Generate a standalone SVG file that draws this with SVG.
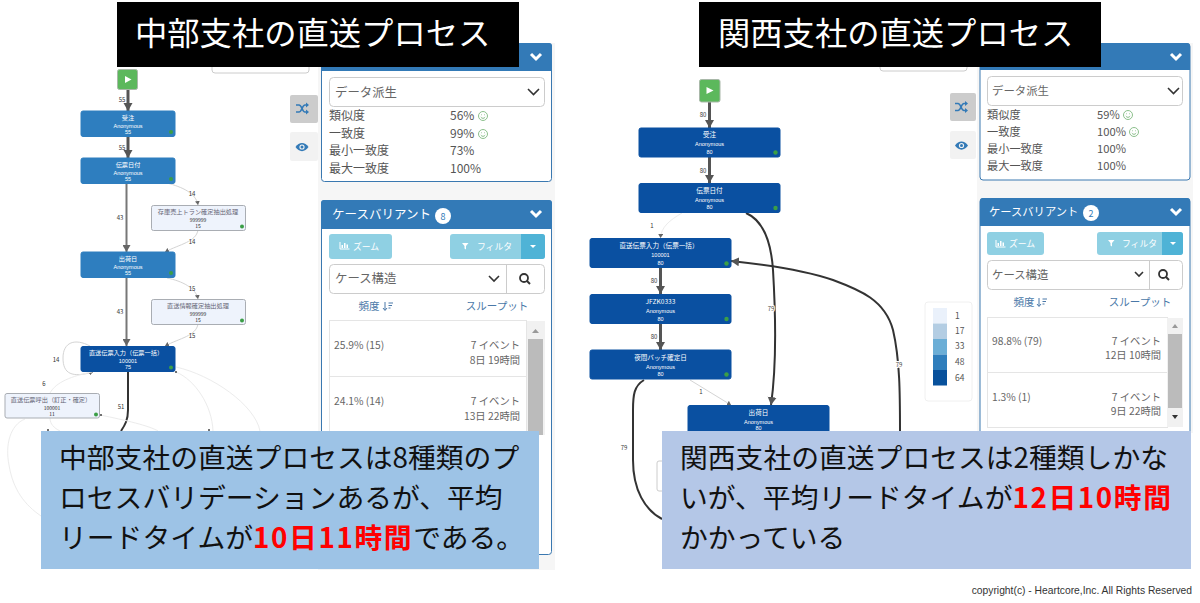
<svg xmlns="http://www.w3.org/2000/svg" width="1200" height="603" viewBox="0 0 1200 603">
<style>
text{font-family:"Noto Sans CJK JP","Liberation Sans",sans-serif}
.side{fill:#f6f6f6}
.panel{fill:#fff;stroke:#3a78b0;stroke-width:1}
.head{fill:#337ab7}
.chev{fill:none;stroke:#fff;stroke-width:3}
.chevd{fill:none;stroke:#333;stroke-width:1.6}
.box{fill:#fff;stroke:#ccc;stroke-width:1}
.t{font-size:12px;fill:#555}
.tr{font-size:11.2px;fill:#555}
.s{font-size:10.300px;fill:#666}
.sel{font-size:12.400px;fill:#666}
.selr{font-size:11.400px;fill:#666}
.lnk{font-size:10.500px;fill:#4a78a8;text-anchor:middle}
.h{font-size:12.500px;fill:#fff}
.hr{font-size:11.300px;fill:#fff}
.bt{font-size:8.800px;fill:#fff}
.btn{fill:#8fd0e3}
.btnd{fill:#4fb3d6}
.smile{fill:none;stroke:#8cc08c;stroke-width:1}
.tool{fill:#f2f2f2}
.toola{fill:#ccc}
.ico{fill:none;stroke:#337ab7;stroke-width:1.600}
.dark{fill:#0a50a1;stroke:#0a50a1}
.mid{fill:#2e7ebf;stroke:#2e7ebf}
.pale{fill:#eef3fc;stroke:#a9adb3;stroke-width:1}
.n1{font-size:6.200px;fill:#fff;text-anchor:middle}
.n1r{font-size:6.600px;fill:#fff;text-anchor:middle}
.n2{font-size:5.500px;fill:#fff;text-anchor:middle;font-family:"Liberation Sans",sans-serif}
.p1{font-size:6.200px;fill:#667;text-anchor:middle}
.p2{font-size:5px;fill:#222;text-anchor:middle}
.dot{fill:#3b9e46}
.play{fill:#5cb85c;stroke:#a9b8a9}
.tri{fill:#fff}
.e1{fill:none;stroke:#555;stroke-width:3}
.e2{fill:none;stroke:#777;stroke-width:2}
.e3{fill:none;stroke:#333;stroke-width:2}
.e4{fill:none;stroke:#d4d4d4;stroke-width:1}
.e5{fill:none;stroke:#ececec;stroke-width:1}
.lb{font-size:6px;fill:#333;text-anchor:middle}
.lbh{font-size:6px;fill:#444;text-anchor:middle;paint-order:stroke;stroke:#fff;stroke-width:2px}
.title{font-size:32.300px;fill:#fff}
.cap{font-size:27.800px;fill:#111}
.red{fill:#f00;font-weight:700;letter-spacing:1.600px}
</style>
<defs>
<marker id="big" markerUnits="userSpaceOnUse" markerWidth="9" markerHeight="10" refX="8" refY="5" orient="auto"><path d="M0 0.500L8 5L0 9.500Z" fill="#555"/></marker>
<marker id="mid" markerUnits="userSpaceOnUse" markerWidth="8" markerHeight="8" refX="7" refY="4" orient="auto"><path d="M0 0L7 4L0 8Z" fill="#666"/></marker>
<marker id="sm" markerUnits="userSpaceOnUse" markerWidth="5" markerHeight="5" refX="4" refY="2.500" orient="auto"><path d="M0 0L4 2.500L0 5Z" fill="#666"/></marker>
<g id="shuf"><path class="ico" d="M-6 -3.500H-3C0 -3.500 0 3.500 3 3.500H5M-6 3.500H-3C0 3.500 0 -3.500 3 -3.500H5"/><path d="M4 -6L7 -3.500L4 -1ZM4 1L7 3.500L4 6Z" fill="#337ab7"/></g>
<g id="eye"><path d="M-6.500 0C-3 -5.500 3 -5.500 6.500 0C3 5.500 -3 5.500 -6.500 0Z" fill="#337ab7"/><circle r="2.600" fill="#f2f2f2"/><circle r="1.500" fill="#337ab7"/></g>
<g id="smi"><circle class="smile" r="4.500"/><path class="smile" d="M-2.200 1C-1 2.800 1 2.800 2.200 1"/><circle cx="-1.500" cy="-1.200" r=".5" fill="#8cc08c"/><circle cx="1.500" cy="-1.200" r=".5" fill="#8cc08c"/></g>
<g id="chart"><path d="M0 0V7H9.500" fill="none" stroke="#fff" stroke-width="1"/><path d="M1.500 6V3H3V6ZM4 6V1H5.500V6ZM6.500 6V2.500H8V6Z" fill="#fff"/></g>
<path id="fun" d="M0 0H6.500L4 3V6.500L2.500 5.500V3Z" fill="#fff"/>
<g id="sort"><path d="M2 0V8M0 6L2 8.500L4 6" fill="none" stroke="#4a78a8" stroke-width="1"/><path d="M5.500 1H10M5.500 3.500H9M5.500 6H7.500" stroke="#4a78a8" stroke-width="1"/></g>
</defs>

<g id="panels-left">
<rect class="side" x="318" y="43" width="237" height="527"/>
<rect class="box" x="212" y="50" width="97" height="23" rx="3"/>
<rect class="toola" x="290" y="95" width="28" height="28" rx="2"/>
<use href="#shuf" x="302" y="108.500"/>
<rect class="tool" x="290" y="132" width="28" height="29" rx="2"/>
<use href="#eye" x="302" y="147"/>
<rect class="panel" x="321.500" y="43.500" width="230" height="138" rx="3"/>
<path class="head" d="M324 43H549Q552 43 552 46V71H321V46Q321 43 324 43Z"/>
<path class="chev" d="M531 54L536 59L541 54"/>
<rect class="box" x="329.500" y="77.500" width="215" height="29" rx="4"/>
<text class="sel" x="335" y="96.500">データ派生</text>
<path class="chevd" d="M528 89L533.500 94.500L539 89"/>
<text class="t" x="329" y="120">類似度</text><text class="t" x="450" y="120">56%</text><use href="#smi" x="483" y="116"/>
<text class="t" x="329" y="138">一致度</text><text class="t" x="450" y="138">99%</text><use href="#smi" x="483" y="134"/>
<text class="t" x="329" y="155">最小一致度</text><text class="t" x="450" y="155">73%</text>
<text class="t" x="329" y="173">最大一致度</text><text class="t" x="450" y="173">100%</text>
<rect class="panel" x="321.500" y="200.500" width="230" height="354" rx="3"/>
<path class="head" d="M324 200H549Q552 200 552 203V229H321V203Q321 200 324 200Z"/>
<text class="h" x="332" y="219">ケースバリアント</text>
<circle cx="443" cy="216" r="8" fill="#fff"/><text x="443" y="219.500" font-size="9" fill="#337ab7" text-anchor="middle">8</text>
<path class="chev" d="M531 211L536 216L541 211"/>
<rect class="btn" x="329" y="234" width="63" height="25" rx="3"/><use href="#chart" x="340" y="242"/><text class="bt" x="353" y="250">ズーム</text>
<rect class="btn" x="450" y="234" width="95" height="25" rx="3"/><path class="btnd" d="M521 234H542Q545 234 545 237V256Q545 259 542 259H521Z"/><use href="#fun" x="462" y="243"/><text class="bt" x="477" y="250">フィルタ</text><path d="M530 245H536L533 248Z" fill="#fff"/>
<rect class="box" x="329.500" y="264.500" width="215" height="29" rx="4"/><path d="M506.500 265V293" stroke="#ccc"/>
<text class="sel" x="335" y="283">ケース構造</text>
<path class="chevd" d="M489 276L494 281L499 276"/>
<circle cx="524" cy="278" r="4" fill="none" stroke="#333" stroke-width="1.800"/><path d="M527 281L530 284" stroke="#333" stroke-width="2"/>
<text class="lnk" x="369" y="310">頻度</text><use href="#sort" x="383" y="302"/><text class="lnk" x="497" y="310">スループット</text>
<rect x="329.500" y="320.500" width="197" height="115" fill="#fff" stroke="#e5e5e5"/>
<rect x="527" y="321" width="18" height="114" fill="#f1f1f1"/><rect x="528" y="339" width="15" height="96" fill="#bbb"/><path d="M532 333L535.500 329L539 333Z" fill="#999"/>
<text class="s" x="334" y="349">25.9% (15)</text><text class="s" x="520" y="349" text-anchor="end">7 イベント</text><text class="s" x="520" y="364" text-anchor="end">8日 19時間</text>
<path d="M330 376.500H526" stroke="#e5e5e5"/>
<text class="s" x="334" y="405">24.1% (14)</text><text class="s" x="520" y="405" text-anchor="end">7 イベント</text><text class="s" x="520" y="420" text-anchor="end">13日 22時間</text>
</g>

<g id="panels-right">
<rect class="side" x="977" y="43" width="216" height="390"/>
<rect class="box" x="880" y="50" width="87" height="21" rx="3"/>
<rect class="toola" x="950" y="93" width="26" height="28" rx="2"/>
<use href="#shuf" x="961" y="107"/>
<rect class="tool" x="950" y="131" width="26" height="28" rx="2"/>
<use href="#eye" x="961.500" y="145.500"/>
<rect class="panel" x="980" y="43.500" width="210" height="136.500" rx="3"/>
<path class="head" d="M983 43H1187Q1190 43 1190 46V70H980V46Q980 43 983 43Z"/>
<path class="chev" d="M1171 54L1176 59L1181 54"/>
<rect class="box" x="987.500" y="76.500" width="195" height="29" rx="4"/>
<text class="selr" x="992" y="95">データ派生</text>
<path class="chevd" d="M1168 88L1173.500 93.500L1179 88"/>
<text class="tr" x="987" y="119">類似度</text><text class="tr" x="1097" y="119">59%</text><use href="#smi" x="1128" y="115"/>
<text class="tr" x="987" y="136">一致度</text><text class="tr" x="1097" y="136">100%</text><use href="#smi" x="1134" y="132"/>
<text class="tr" x="987" y="153">最小一致度</text><text class="tr" x="1097" y="153">100%</text>
<text class="tr" x="987" y="170">最大一致度</text><text class="tr" x="1097" y="170">100%</text>
<rect class="panel" x="980" y="198.500" width="210" height="240" rx="3"/>
<path class="head" d="M983 198H1187Q1190 198 1190 201V226H980V201Q980 198 983 198Z"/>
<text class="hr" x="989" y="216">ケースバリアント</text>
<circle cx="1091" cy="213" r="8" fill="#fff"/><text x="1091" y="216.500" font-size="9" fill="#337ab7" text-anchor="middle">2</text>
<path class="chev" d="M1171 209L1176 214L1181 209"/>
<rect class="btn" x="987" y="232" width="57" height="23" rx="3"/><use href="#chart" x="996" y="240"/><text class="bt" x="1009" y="247">ズーム</text>
<rect class="btn" x="1097" y="232" width="86" height="23" rx="3"/><path class="btnd" d="M1162 232H1180Q1183 232 1183 235V252Q1183 255 1180 255H1162Z"/><use href="#fun" x="1108" y="240"/><text class="bt" x="1122" y="247">フィルタ</text><path d="M1170 242H1176L1173 245Z" fill="#fff"/>
<rect class="box" x="987.500" y="260.500" width="195" height="29" rx="4"/><path d="M1149.500 261V289" stroke="#ccc"/>
<text class="selr" x="992" y="279">ケース構造</text>
<path class="chevd" d="M1135 272L1139 276L1143 272"/>
<circle cx="1163" cy="274" r="4" fill="none" stroke="#333" stroke-width="1.800"/><path d="M1166 277L1169 280" stroke="#333" stroke-width="2"/>
<text class="lnk" x="1024" y="306">頻度</text><use href="#sort" x="1037" y="298"/><text class="lnk" x="1140" y="306">スループット</text>
<rect x="987.500" y="317.500" width="180" height="110" fill="#fff" stroke="#e5e5e5"/>
<rect x="1167" y="318" width="16" height="109" fill="#f1f1f1"/><rect x="1168" y="334" width="14" height="74" fill="#bbb"/><path d="M1172 328L1175 324L1178 328Z" fill="#999"/><path d="M1172 415L1175 419L1178 415Z" fill="#333"/>
<text class="s" x="992" y="345">98.8% (79)</text><text class="s" x="1161" y="345" text-anchor="end">7 イベント</text><text class="s" x="1161" y="359" text-anchor="end">12日 10時間</text>
<path d="M988 372.500H1167" stroke="#e5e5e5"/>
<text class="s" x="992" y="401">1.3% (1)</text><text class="s" x="1161" y="401" text-anchor="end">7 イベント</text><text class="s" x="1161" y="415" text-anchor="end">9日 22時間</text>
<rect x="925" y="302" width="47" height="99" rx="3" fill="#fff" stroke="#f0f0f0"/>
<rect x="933" y="308" width="14" height="15.500" fill="#eaf1fb"/>
<rect x="933" y="323.500" width="14" height="15.500" fill="#b3cde3"/>
<rect x="933" y="339" width="14" height="15.500" fill="#6baed6"/>
<rect x="933" y="354.500" width="14" height="15.500" fill="#2f7ebc"/>
<rect x="933" y="370" width="14" height="15.500" fill="#08519c"/>
<g font-size="8.500" fill="#555"><text x="955" y="319">1</text><text x="955" y="334">17</text><text x="955" y="349">33</text><text x="955" y="365">48</text><text x="955" y="381">64</text></g>
<rect x="657" y="461" width="12" height="30" rx="2" fill="#fff" stroke="#ccc"/>
</g>

<g id="connectors">
<path class="e1" d="M128 89V111" marker-end="url(#big)"/><text class="lb" x="122" y="102">55</text>
<path class="e1" d="M128 136V158" marker-end="url(#big)"/><text class="lb" x="122" y="150">55</text>
<path class="e2" d="M126.500 183V252" marker-end="url(#mid)"/><text class="lb" x="120" y="220">43</text>
<path class="e4" d="M167 183C182 187 196 193 198 205" marker-end="url(#sm)"/><text class="lb" x="192" y="196">14</text>
<path class="e4" d="M198 230C196 242 180 244 165 252" marker-end="url(#sm)"/><text class="lb" x="192" y="244">14</text>
<path class="e2" d="M126.500 277V346" marker-end="url(#mid)"/><text class="lb" x="120" y="314">43</text>
<path class="e4" d="M167 278C182 281 196 288 198 299" marker-end="url(#sm)"/><text class="lb" x="192" y="291">15</text>
<path class="e4" d="M198 324C196 336 180 338 165 346" marker-end="url(#sm)"/><text class="lb" x="192" y="338">15</text>
<path class="e4" d="M90 346C75 338 63 342 63 358C63 374 72 378 93 372" marker-end="url(#sm)"/><text class="lb" x="56" y="362">14</text>
<path class="e3" d="M128 371V410C128 420 125 425 121 431"/><text class="lb" x="121" y="409">51</text>
<path class="e5" d="M92 372C72 376 56 382 50 393"/><text class="lb" x="44" y="386">6</text>
<path class="e5" d="M176 367C212 375 255 405 260 431"/>
<path class="e5" d="M176 372C195 380 212 405 213 431"/>
<path class="e5" d="M100 415C125 420 150 426 158 431"/>
<path class="e5" d="M50 418C50 424 54 428 60 431"/>
<path class="e5" d="M25 419C10 425 5 445 9 465C13 490 25 505 41 516"/>
<circle cx="48" cy="430" r="1" fill="#444"/><circle cx="209" cy="430" r="1" fill="#444"/><circle cx="176" cy="372" r="1" fill="#444"/><circle cx="101" cy="415" r="1" fill="#444"/>

<path class="e1" d="M709.500 102V128" marker-end="url(#big)"/><text class="lb" x="703" y="117">80</text>
<path class="e1" d="M709.500 157V183" marker-end="url(#big)"/><text class="lb" x="703" y="173">80</text>
<path class="e5" d="M682 213C670 220 661 227 660.500 238" marker-end="url(#sm)"/><text class="lb" x="652" y="228">1</text>
<path class="e3" d="M746 213C762 220 771 240 773 270C776 320 776 370 771 405" marker-end="url(#big)"/><text class="lbh" x="771" y="311">79</text>
<path class="e3" d="M900 431C900 395 900 360 893 330C885 300 860 290 833 280C810 272 770 265 731 261" marker-end="url(#big)"/><text class="lbh" x="899" y="367">79</text>
<path class="e1" d="M660.500 268V294" marker-end="url(#big)"/><text class="lb" x="654" y="283">80</text>
<path class="e1" d="M660.500 324V350" marker-end="url(#big)"/><text class="lb" x="654" y="339">80</text>
<path class="e4" d="M690 380L731 405" marker-end="url(#sm)"/><text class="lb" x="701" y="394">1</text>
<path class="e3" d="M644 380C634 386 633 395 633 410V460C633 490 645 510 662 519"/><text class="lb" x="624" y="450">79</text>
</g>

<g id="n-start-l"><rect class="play" x="117.500" y="69.500" width="20" height="20" rx="2"/><path class="tri" d="M125 76L131.500 79.500L125 83Z"/></g>
<g id="n-juchu-l"><rect class="mid" x="81" y="111" width="94" height="25.500" rx="2"/><text class="n1" x="128" y="119.500">受注</text><text class="n2" x="128" y="127.500">Anonymous</text><text class="n2" x="128" y="133.500">55</text><circle class="dot" cx="171" cy="132" r="2"/></g>
<g id="n-denpyo-l"><rect class="mid" x="81" y="158" width="94" height="25.500" rx="2"/><text class="n1" x="128" y="166.500">伝票日付</text><text class="n2" x="128" y="174.500">Anonymous</text><text class="n2" x="128" y="180.500">55</text><circle class="dot" cx="171" cy="179" r="2"/></g>
<g id="n-zaiko-l"><rect class="pale" x="151.500" y="205.500" width="94" height="25" rx="2"/><text class="p1" x="198" y="213.500">存庫売上トラン確定抽出処理</text><text class="p2" x="198" y="221.500">999999</text><text class="p2" x="198" y="227.500">15</text><circle class="dot" cx="242" cy="226.500" r="2"/></g>
<g id="n-shukka-l"><rect class="mid" x="81" y="252" width="94" height="25.500" rx="2"/><text class="n1" x="128" y="260.500">出荷日</text><text class="n2" x="128" y="268.500">Anonymous</text><text class="n2" x="128" y="274.500">55</text><circle class="dot" cx="171" cy="273" r="2"/></g>
<g id="n-joho-l"><rect class="pale" x="151.500" y="299.500" width="94" height="25" rx="2"/><text class="p1" x="198" y="308">直送情報確定抽出処理</text><text class="p2" x="198" y="315.500">999999</text><text class="p2" x="198" y="321.500">15</text><circle class="dot" cx="242" cy="320.500" r="2"/></g>
<g id="n-chokuso-l"><rect class="dark" x="81" y="346.500" width="94" height="25" rx="2"/><text class="n1" x="126" y="355">直送伝票入力（伝票一括）</text><text class="n2" x="128" y="362.500">100001</text><text class="n2" x="128" y="368.500">75</text><circle class="dot" cx="171" cy="367.500" r="2"/></g>
<g id="n-yobidashi-l"><rect class="pale" x="5" y="393.500" width="94.500" height="24.500" rx="2"/><text class="p1" x="51" y="402">直送伝票呼出（訂正・確定）</text><text class="p2" x="52" y="409.500">100001</text><text class="p2" x="52" y="415.500">11</text><circle class="dot" cx="96" cy="414.500" r="2"/></g>

<g id="n-start-r"><rect class="play" x="699.500" y="79.500" width="20.500" height="22.500" rx="2"/><path class="tri" d="M706.500 87L713.500 90.500L706.500 94Z"/></g>
<g id="n-juchu-r"><rect class="dark" x="639" y="128" width="141" height="29" rx="2"/><text class="n1r" x="709.500" y="137">受注</text><text class="n2" x="709.500" y="146">Anonymous</text><text class="n2" x="709.500" y="153.500">80</text><circle class="dot" cx="775.500" cy="152.500" r="2.200"/></g>
<g id="n-denpyo-r"><rect class="dark" x="639" y="183.500" width="141" height="29" rx="2"/><text class="n1r" x="709.500" y="192.500">伝票日付</text><text class="n2" x="709.500" y="201.500">Anonymous</text><text class="n2" x="709.500" y="209">80</text><circle class="dot" cx="775.500" cy="208" r="2.200"/></g>
<g id="n-chokuso-r"><rect class="dark" x="590" y="238.500" width="141" height="29" rx="2"/><text class="n1r" x="659" y="248">直送伝票入力（伝票一括）</text><text class="n2" x="660.500" y="257">100001</text><text class="n2" x="660.500" y="264.500">80</text><circle class="dot" cx="726.500" cy="263.500" r="2.200"/></g>
<g id="n-jfzk-r"><rect class="dark" x="590" y="294.500" width="141" height="29" rx="2"/><text class="n1r" x="660.500" y="304">JFZK0333</text><text class="n2" x="660.500" y="313">Anonymous</text><text class="n2" x="660.500" y="320.500">80</text><circle class="dot" cx="726.500" cy="319" r="2.200"/></g>
<g id="n-yakan-r"><rect class="dark" x="590" y="350" width="141" height="29" rx="2"/><text class="n1r" x="660.500" y="359.500">夜間バッチ確定日</text><text class="n2" x="660.500" y="368.500">Anonymous</text><text class="n2" x="660.500" y="375.500">80</text><circle class="dot" cx="726.500" cy="374.500" r="2.200"/></g>
<g id="n-shukka-r"><rect class="dark" x="688" y="405.500" width="141" height="30" rx="2"/><text class="n1r" x="758.500" y="414.500">出荷日</text><text class="n2" x="758.500" y="423.500">Anonymous</text><text class="n2" x="758.500" y="430">80</text></g>

<g id="caption-left">
<rect x="41" y="431" width="498" height="138" fill="#9dc3e6"/>
<text class="cap" x="59" y="468">中部支社の直送プロセスは8種類のプ</text>
<text class="cap" x="59" y="508">ロセスバリデーションあるが、平均</text>
<text class="cap" x="59" y="548">リードタイムが<tspan class="red">10日11時間</tspan>である。</text>
</g>
<g id="caption-right">
<rect x="662" y="431" width="529" height="138" fill="#b4c7e7"/>
<text class="cap" x="680" y="468">関西支社の直送プロセスは2種類しかな</text>
<text class="cap" x="680" y="508">いが、平均リードタイムが<tspan class="red">12日10時間</tspan></text>
<text class="cap" x="680" y="548">かかっている</text>
</g>
<g id="title-left"><rect x="117" y="2" width="402" height="65" fill="#000"/><text class="title" x="135" y="45">中部支社の直送プロセス</text></g>
<g id="title-right"><rect x="699" y="2" width="402" height="65" fill="#000"/><text class="title" x="718" y="45">関西支社の直送プロセス</text></g>
<text id="copyright" x="1192" y="594" text-anchor="end" font-size="10.300" fill="#333" style="font-family:'Liberation Sans',sans-serif">copyright(c) - Heartcore,Inc. All Rights Reserved</text>
</svg>
